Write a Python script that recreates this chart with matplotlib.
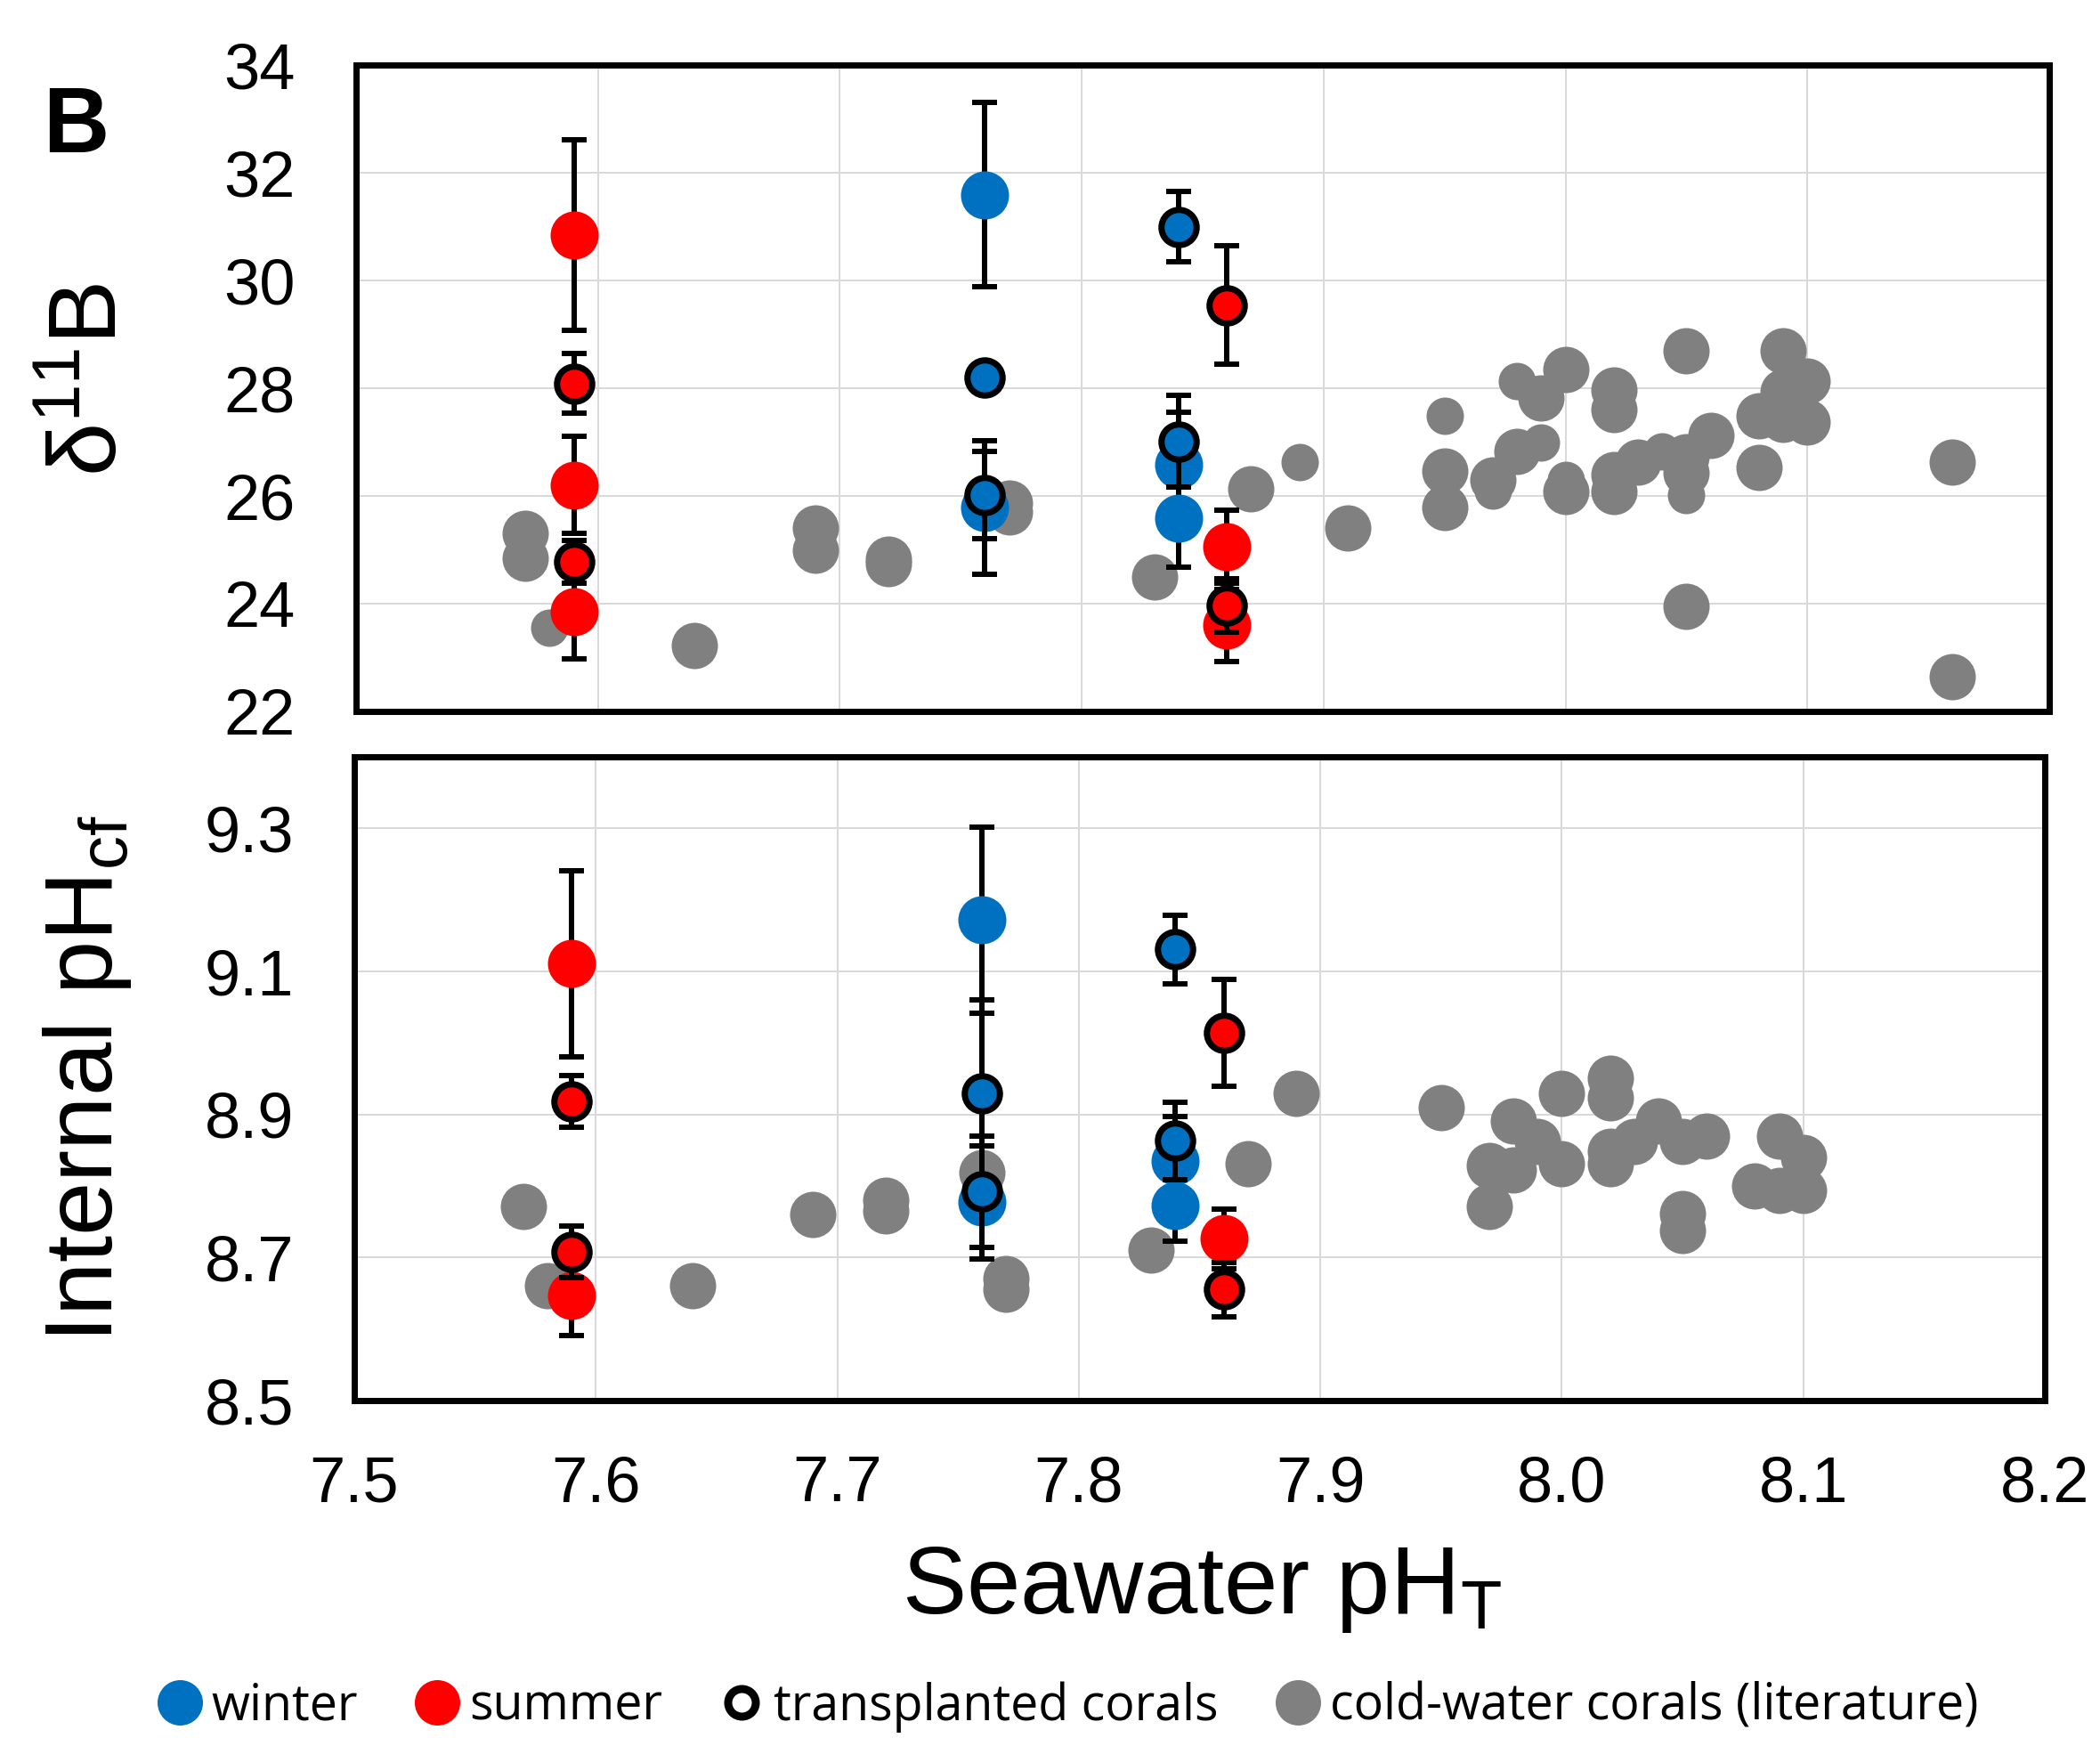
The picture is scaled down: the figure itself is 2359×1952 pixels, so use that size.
import matplotlib
matplotlib.use("Agg")
import matplotlib.pyplot as plt
from matplotlib.lines import Line2D

plt.rcParams['font.family'] = ['Liberation Sans', 'DejaVu Sans']
plt.rcParams['mathtext.fontset'] = 'custom'
plt.rcParams['mathtext.rm'] = 'Liberation Sans'
plt.rcParams['mathtext.it'] = 'Liberation Sans:italic'
plt.rcParams['mathtext.bf'] = 'Liberation Sans:bold'

# ---------------- data ----------------
x_ticks = [7.5, 7.6, 7.7, 7.8, 7.9, 8.0, 8.1, 8.2]
x_ticklabels = ["7.5", "7.6", "7.7", "7.8", "7.9", "8.0", "8.1", "8.2"]
top_yticks = [22, 24, 26, 28, 30, 32, 34]
bot_yticks = [8.5, 8.7, 8.9, 9.1, 9.3]
bot_yticklabels = ["8.5", "8.7", "8.9", "9.1", "9.3"]

# delta11B panel
winter_x_top = [7.76, 7.76, 7.84, 7.84]
winter_d11B = [31.59, 25.78, 26.58, 25.58]
winter_d11B_err = [1.71, 1.24, 0.98, 0.9]

summer_x_top = [7.59, 7.59, 7.59, 7.86, 7.86]
summer_d11B = [30.84, 26.20, 23.85, 25.06, 23.60]
summer_d11B_err = [1.77, 0.9, 0.88, 0.68, 0.67]

trans_winter_x_top = [7.76, 7.76, 7.84, 7.84]
trans_winter_d11B = [28.20, 26.01, 31.00, 27.01]
trans_winter_d11B_err = [0.15, 0.81, 0.66, 0.85]

trans_summer_x_top = [7.59, 7.59, 7.86, 7.86]
trans_summer_d11B = [28.09, 24.78, 29.54, 23.97]
trans_summer_d11B_err = [0.55, 0.4, 1.1, 0.5]

lit_x_top_large = [7.57, 7.57, 7.64, 7.69, 7.69, 7.72, 7.72, 7.77, 7.77, 7.83,
                   7.87, 7.91, 7.95, 7.95, 7.97, 7.98, 7.99, 8.00, 8.00, 8.02,
                   8.02, 8.02, 8.02, 8.03, 8.05, 8.05, 8.05, 8.05, 8.06, 8.08,
                   8.08, 8.09, 8.09, 8.09, 8.10, 8.10, 8.16, 8.16]
lit_d11B_large = [25.31, 24.85, 23.23, 25.41, 25.00, 24.82, 24.74, 25.87, 25.70, 24.50,
                  26.14, 25.41, 26.47, 25.78, 26.30, 26.82, 27.81, 28.35, 26.08, 27.97,
                  27.60, 26.40, 26.08, 26.62, 26.73, 26.43, 28.69, 23.95, 27.12, 27.49,
                  26.53, 28.70, 27.94, 27.42, 28.14, 27.38, 26.62, 22.65]
lit_x_top_small = [7.58, 7.89, 7.95, 7.97, 7.98, 7.99, 8.00, 8.04, 8.05]
lit_d11B_small = [23.56, 26.63, 27.49, 26.10, 28.13, 27.00, 26.30, 26.82, 26.02]

# internal pH panel
winter_x_bot = [7.76, 7.76, 7.84, 7.84]
winter_pHcf = [9.172, 8.777, 8.835, 8.773]
winter_pHcf_err = [0.13, 0.079, 0.062, 0.05]

summer_x_bot = [7.59, 7.59, 7.86]
summer_pHcf = [9.111, 8.647, 8.726]
summer_pHcf_err = [0.13, 0.056, 0.042]

trans_winter_x_bot = [7.76, 7.76, 7.84, 7.84]
trans_winter_pHcf = [8.930, 8.792, 9.131, 8.863]
trans_winter_pHcf_err = [0.13, 0.078, 0.048, 0.054]

trans_summer_x_bot = [7.59, 7.59, 7.86, 7.86]
trans_summer_pHcf = [8.918, 8.708, 9.014, 8.655]
trans_summer_pHcf_err = [0.036, 0.036, 0.075, 0.038]

lit_x_bot = [7.57, 7.58, 7.64, 7.69, 7.72, 7.72, 7.76, 7.77, 7.77, 7.83,
             7.87, 7.89, 7.95, 7.97, 7.97, 7.98, 7.98, 7.99, 8.00, 8.00,
             8.02, 8.02, 8.02, 8.02, 8.03, 8.04, 8.05, 8.05, 8.05, 8.06,
             8.08, 8.09, 8.09, 8.10, 8.10]
lit_pHcf = [8.771, 8.660, 8.660, 8.760, 8.780, 8.765, 8.819, 8.670, 8.655, 8.710,
            8.831, 8.930, 8.910, 8.829, 8.771, 8.891, 8.823, 8.862, 8.930, 8.831,
            8.951, 8.923, 8.849, 8.831, 8.862, 8.891, 8.862, 8.761, 8.738, 8.870,
            8.800, 8.870, 8.794, 8.840, 8.794]

legend_labels = ["winter", "summer", "transplanted corals", "cold-water corals (literature)"]

# ---------------- styling ----------------
BLUE = "#0070C0"
RED = "#FF0000"
GRAY = "#808080"
GRID = "#D9D9D9"

W, H = 2359, 1952
DPI = 100
P = 72.0 / DPI  # points per pixel

fig = plt.figure(figsize=(W / DPI, H / DPI), dpi=DPI)


def rect(l, r, t, b):
    return [l / W, 1 - b / H, (r - l) / W, (b - t) / H]


ax1 = fig.add_axes(rect(400, 2302, 73, 799))
ax2 = fig.add_axes(rect(398, 2297, 850, 1573))

MS_BIG = 54 * P
MS_LIT = 52 * P
MS_LIT_S = 42 * P
MS_TR = 39.5 * P
MEW_TR = 7 * P
ELW = 6 * P
CAP = 14 * P


def style(ax, ylim, yticks, yticklabels, show_x):
    ax.set_xlim(7.5, 8.2)
    ax.set_ylim(*ylim)
    ax.set_xticks(x_ticks)
    ax.set_yticks(yticks)
    ax.set_yticklabels(yticklabels)
    if show_x:
        ax.set_xticklabels(x_ticklabels)
    else:
        ax.set_xticklabels([])
    ax.tick_params(axis='both', length=0, labelsize=52)
    ax.tick_params(axis='x', pad=44)
    ax.tick_params(axis='y', pad=49)
    ax.grid(True, color=GRID, linewidth=2 * P, zorder=0)
    ax.set_axisbelow(True)
    for s in ax.spines.values():
        s.set_linewidth(7 * P)
        s.set_color('black')
        s.set_zorder(10)


def draw(ax, lx_l, ly_l, lx_s, ly_s, wx, wy, we, sx, sy, se, twx, twy, twe, tsx, tsy, tse):
    ax.plot(lx_l, ly_l, 'o', ms=MS_LIT, color=GRAY, mec='none', ls='none', zorder=2)
    if lx_s:
        ax.plot(lx_s, ly_s, 'o', ms=MS_LIT_S, color=GRAY, mec='none', ls='none', zorder=2)
    for x, y, e, c in ((wx, wy, we, BLUE), (sx, sy, se, RED)):
        ax.errorbar(x, y, yerr=e, fmt='none', ecolor='black', elinewidth=ELW,
                    capsize=CAP, capthick=ELW, zorder=3)
        ax.plot(x, y, 'o', ms=MS_BIG, color=c, mec='none', ls='none', zorder=3.5)
    for x, y, e, c in ((twx, twy, twe, BLUE), (tsx, tsy, tse, RED)):
        ax.errorbar(x, y, yerr=e, fmt='none', ecolor='black', elinewidth=ELW,
                    capsize=CAP, capthick=ELW, zorder=4)
        ax.plot(x, y, 'o', ms=MS_TR, color=c, mec='black', mew=MEW_TR, ls='none', zorder=4.5)


draw(ax1, lit_x_top_large, lit_d11B_large, lit_x_top_small, lit_d11B_small,
     winter_x_top, winter_d11B, winter_d11B_err,
     summer_x_top, summer_d11B, summer_d11B_err,
     trans_winter_x_top, trans_winter_d11B, trans_winter_d11B_err,
     trans_summer_x_top, trans_summer_d11B, trans_summer_d11B_err)
draw(ax2, lit_x_bot, lit_pHcf, [], [],
     winter_x_bot, winter_pHcf, winter_pHcf_err,
     summer_x_bot, summer_pHcf, summer_pHcf_err,
     trans_winter_x_bot, trans_winter_pHcf, trans_winter_pHcf_err,
     trans_summer_x_bot, trans_summer_pHcf, trans_summer_pHcf_err)

style(ax1, (22, 34), top_yticks, [str(v) for v in top_yticks], False)
style(ax2, (8.5, 9.4), bot_yticks, bot_yticklabels, True)

# labels
fig.text(131 / W, 1 - 426 / H, r'δ$^{\mathregular{11}}$B', rotation=90, rotation_mode='anchor',
         ha='center', va='baseline', fontsize=78)
fig.text(126 / W, 1 - 1212 / H, r'Internal pH$_{\mathregular{cf}}$', rotation=90,
         rotation_mode='anchor', ha='center', va='baseline', fontsize=78)
fig.text(1350 / W, 1 - 1812 / H, r'Seawater pH$_{\mathregular{T}}$', ha='center',
         va='baseline', fontsize=78)
fig.text(85 / W, 1 - 171 / H, 'B', ha='center', va='baseline', fontsize=74, fontweight='bold')

# legend
handles = [
    Line2D([], [], marker='o', ls='none', ms=51 * P, color=BLUE, mec='none'),
    Line2D([], [], marker='o', ls='none', ms=51 * P, color=RED, mec='none'),
    Line2D([], [], marker='o', ls='none', ms=31 * P, mfc='white', mec='black', mew=9 * P),
    Line2D([], [], marker='o', ls='none', ms=51 * P, color=GRAY, mec='none'),
]
fig.legend(handles, legend_labels, loc='center', bbox_to_anchor=(1199.5 / W, 1 - 1917 / H),
           ncol=4, frameon=False, prop={'family': 'Open Sans', 'size': 40},
           handlelength=0.9, handletextpad=0.2, columnspacing=1.15,
           borderpad=0, borderaxespad=0)

fig.savefig("out.png", dpi=DPI)
